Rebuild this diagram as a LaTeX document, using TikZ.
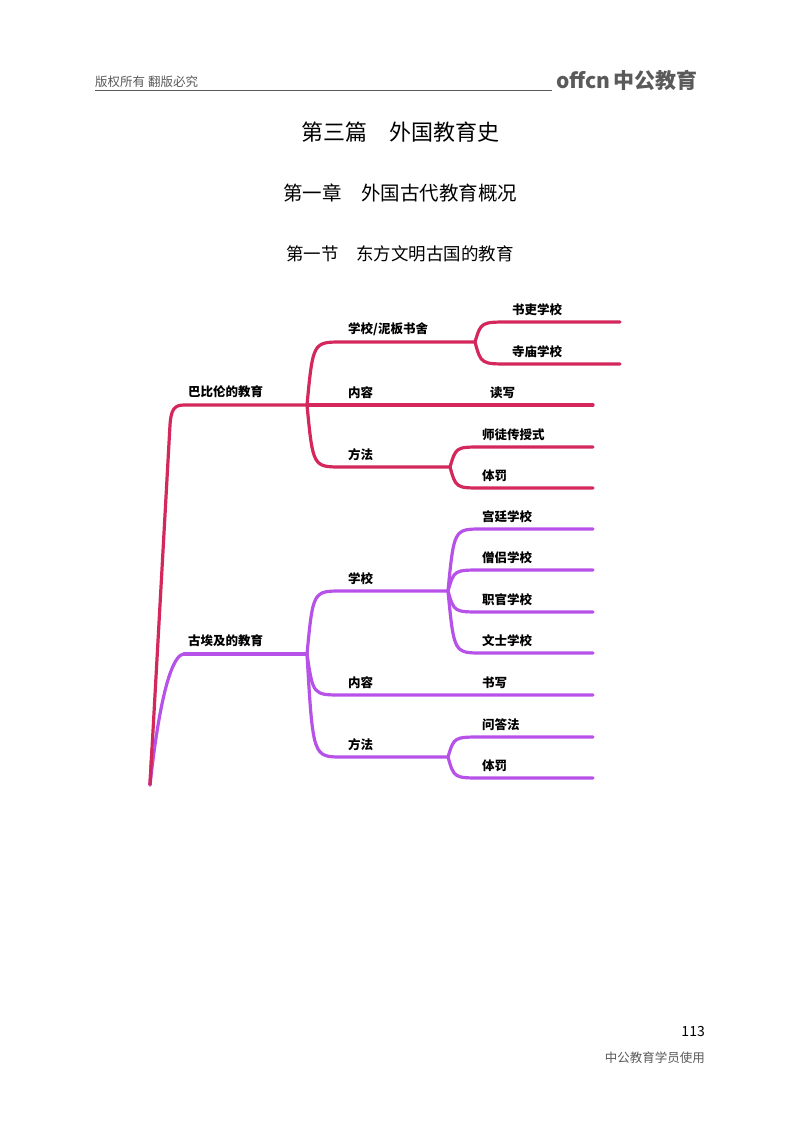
\documentclass[tikz,border=0pt]{standalone}
\usepackage{fontspec}
\setmainfont{Noto Sans CJK SC}
\usetikzlibrary{calc}
\definecolor{rd}{RGB}{212,40,92}
\definecolor{pp}{RGB}{182,82,232}
\definecolor{hd}{RGB}{90,90,90}
\tikzset{
 br/.style={line width=3.2pt,line cap=round,to path={.. controls ($(\tikztostart|-\tikztotarget)+(6,0)$) .. (\tikztotarget)}},
 lb/.style={anchor=south west,inner sep=0pt,font=\fontsize{12.5}{12.5}\selectfont\bfseries},
 hl/.style={font=\fontsize{#1}{#1}\selectfont,inner sep=0pt}
}
\begin{document}
\begin{tikzpicture}[x=1pt,y=-1pt]
\useasboundingbox[fill=white] (0,0) rectangle (800,1124);
% header
\node[hl=12.5,anchor=south west,text=hd] (hdr) at (95,88) {版权所有\ 翻版必究};
\coordinate (hl1) at (95,90); \coordinate (hl2) at (552,90);
\draw[hd,line width=0.8pt] (hl1) -- (hl2);
\node[anchor=south west,inner sep=0pt,text=hd] (logo) at (556,91) {\fontsize{21}{21}\selectfont\bfseries offcn\,中公教育};
\node[hl=22] (t1) at (400,132) {第三篇\quad 外国教育史};
\node[hl=19.5] (t2) at (400,193) {第一章\quad 外国古代教育概况};
\node[hl=17.5] (t3) at (400,254) {第一节\quad 东方文明古国的教育};
\node[hl=14,anchor=east] (pn) at (705,1031) {113};
\node[hl=12.5,anchor=east,text=hd] (ft) at (705,1058) {中公教育学员使用};
% red tree
\coordinate (r0) at (150,785);
\coordinate (rk) at (170,425);
\coordinate (r1) at (184,405); \coordinate (r2) at (307,405);
\coordinate (a1) at (342,342); \coordinate (a2) at (475,342);
\coordinate (a11) at (510,322); \coordinate (a12) at (620,322);
\coordinate (a21) at (510,364); \coordinate (a22) at (620,364);
\coordinate (b2) at (593,405);
\coordinate (c1) at (342,467); \coordinate (c2) at (450,467);
\coordinate (c11) at (482,447); \coordinate (c12) at (593,447);
\coordinate (c21) at (482,488); \coordinate (c22) at (593,488);
\begin{scope}[rd]
\draw[br] (r0) -- (rk) .. controls (171,410) and (174,405) .. (r1) -- (r2);
\draw[br] (r2) to (a1) -- (a2);
\draw[br] (a2) to (a11) -- (a12);
\draw[br] (a2) to (a21) -- (a22);
\draw[br] (r2) -- (b2);
\draw[br] (r2) to (c1) -- (c2);
\draw[br] (c2) to (c11) -- (c12);
\draw[br] (c2) to (c21) -- (c22);
\end{scope}
\node[lb] (n1) at (188,398) {巴比伦的教育};
\node[lb] (n2) at (348,336) {学校/泥板书舍};
\node[lb] (n3) at (512,316) {书吏学校};
\node[lb] (n4) at (512,358) {寺庙学校};
\node[lb] (n5) at (348,399) {内容};
\node[lb] (n6) at (490,399) {读写};
\node[lb] (n7) at (348,461) {方法};
\node[lb] (n8) at (482,441) {师徒传授式};
\node[lb] (n9) at (482,482) {体罚};
% purple tree
\coordinate (p1) at (184,654); \coordinate (p2) at (307,654);
\coordinate (d1) at (342,591); \coordinate (d2) at (448,591);
\coordinate (e2) at (342,695); \coordinate (e3) at (593,695);
\coordinate (f1) at (342,757); \coordinate (f2) at (448,757);
\begin{scope}[pp]
\draw[br,to path={.. controls ($(\tikztostart)+(12,-110)$) and ($(\tikztotarget)+(-8,0)$) .. (\tikztotarget)}] (r0) to (p1);
\draw[br] (p1) -- (p2);
\draw[br] (p2) to (d1) -- (d2);
\foreach \y/\n in {529/g1,570/g2,612/g3,653/g4}{
  \coordinate (\n a) at (482,\y); \coordinate (\n b) at (593,\y);
  \draw[br] (d2) to (\n a) -- (\n b);}
\draw[br] (p2) to (e2) -- (e3);
\draw[br] (p2) to (f1) -- (f2);
\coordinate (h1a) at (482,737); \coordinate (h1b) at (593,737);
\coordinate (h2a) at (482,778); \coordinate (h2b) at (593,778);
\draw[br] (f2) to (h1a) -- (h1b);
\draw[br] (f2) to (h2a) -- (h2b);
\end{scope}
\draw[rd,line width=3.2pt] ($(r0)+(0,0)$) -- ($(r0)!0.1!(rk)$);
\node[lb] (m1) at (188,647) {古埃及的教育};
\node[lb] (m2) at (348,585) {学校};
\node[lb] (m3) at (482,523) {宫廷学校};
\node[lb] (m4) at (482,564) {僧侣学校};
\node[lb] (m5) at (482,606) {职官学校};
\node[lb] (m6) at (482,647) {文士学校};
\node[lb] (m7) at (348,689) {内容};
\node[lb] (m8) at (482,689) {书写};
\node[lb] (m9) at (348,751) {方法};
\node[lb] (m10) at (482,731) {问答法};
\node[lb] (m11) at (482,772) {体罚};
\end{tikzpicture}
\end{document}
